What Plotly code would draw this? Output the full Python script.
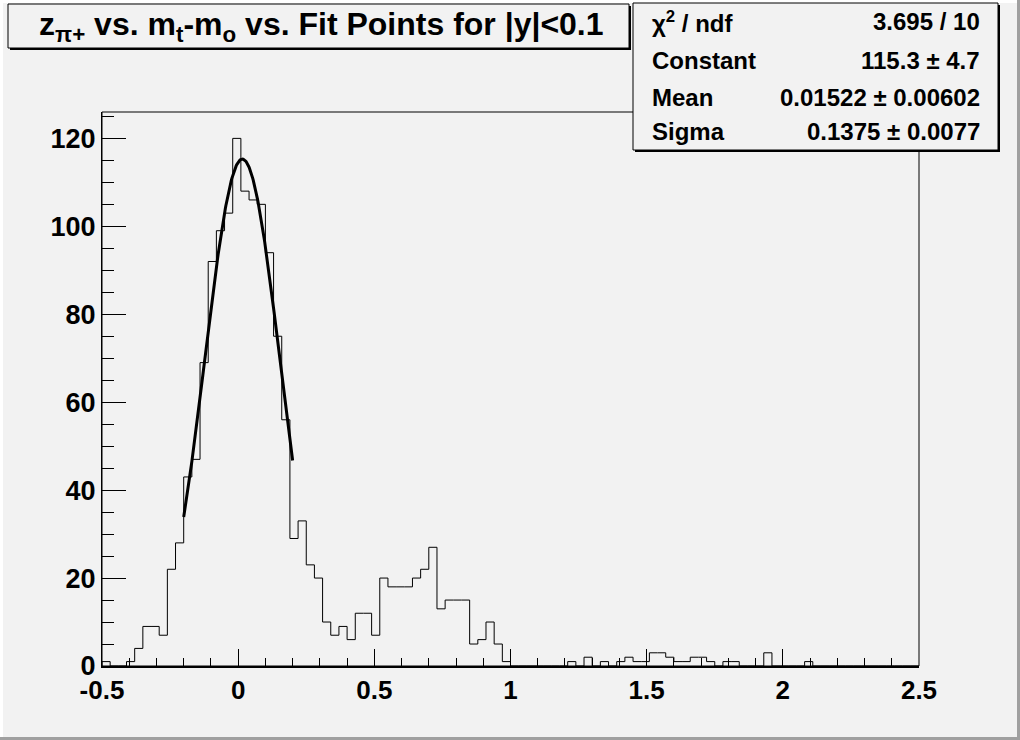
import numpy as np
import plotly.graph_objects as go

# ---------------- data ----------------
x_lo, x_hi, n_bins = -0.5, 2.5, 100
counts = [1, 0, 0, 1, 4, 9, 9, 7, 22, 28,
          43, 47, 69, 92, 99, 103, 120, 108, 106, 105,
          94, 75, 56, 29, 33, 23, 20, 10, 7, 9,
          6, 12, 12, 7, 20, 18, 18, 18, 20, 22,
          27, 13, 15, 15, 15, 5, 6, 10, 5, 1,
          0, 0, 0, 0, 0, 0, 0, 1, 0, 2,
          0, 1, 0, 1, 2, 1, 1, 3, 3, 2,
          1, 1, 2, 2, 1, 0, 1, 1, 0, 0,
          0, 3, 0, 0, 0, 0, 1, 0, 0, 0,
          0, 0, 0, 0, 0, 0, 0, 0, 0, 0]
fit_constant, fit_mean, fit_sigma = 115.3, 0.01522, 0.1375
fit_range = [-0.2, 0.2]
stat_labels = ["χ<sup>2</sup> / ndf", "Constant", "Mean", "Sigma"]
stat_values = ["3.695 / 10", "115.3 ± 4.7", "0.01522 ± 0.00602", "0.1375 ± 0.0077"]
title_text = "z<sub>π+</sub> vs. m<sub>t</sub>-m<sub>o</sub> vs. Fit Points for |y|&lt;0.1"
x_tickvals = [-0.5, 0, 0.5, 1, 1.5, 2, 2.5]
x_ticktext = ["-0.5", "0", "0.5", "1", "1.5", "2", "2.5"]
y_tickvals = [0, 20, 40, 60, 80, 100, 120]

# ---------------- layout geometry ----------------
W, H = 1020, 740
ML, MR, MT, MB = 102, 101, 112, 74
PW, PH = W - ML - MR, H - MT - MB
BG = "#f2f2f2"
FONT = "Liberation Sans"


def px(xp):
    return (xp - ML) / PW


def py(yp):
    return 1 - (yp - MT) / PH


edges = np.linspace(x_lo, x_hi, n_bins + 1)
hx = [edges[0]] + list(edges[:-1]) + [edges[-1]]
hy = [0] + list(counts) + [counts[-1]]

fx = np.linspace(fit_range[0], fit_range[1], 200)
fy = fit_constant * np.exp(-0.5 * ((fx - fit_mean) / fit_sigma) ** 2)

fig = go.Figure()
fig.add_trace(go.Scatter(x=hx, y=hy, mode="lines", line=dict(shape="hv", color="black", width=1),
                         hoverinfo="skip", showlegend=False))
fig.add_trace(go.Scatter(x=fx, y=fy, mode="lines", line=dict(color="black", width=3),
                         hoverinfo="skip", showlegend=False))

shapes = []
# canvas bevel
shapes.append(dict(type="rect", xref="paper", yref="paper", x0=px(0), x1=px(W), y0=py(H - 3), y1=py(H),
                   fillcolor="#a0a0a0", line=dict(width=0), layer="below"))
shapes.append(dict(type="rect", xref="paper", yref="paper", x0=px(W - 3), x1=px(W), y0=py(H), y1=py(0),
                   fillcolor="#a0a0a0", line=dict(width=0), layer="below"))
shapes.append(dict(type="rect", xref="paper", yref="paper", x0=px(0), x1=px(3), y0=py(H - 3), y1=py(0),
                   fillcolor="#ffffff", line=dict(width=0), layer="below"))
shapes.append(dict(type="rect", xref="paper", yref="paper", x0=px(0), x1=px(W - 3), y0=py(3), y1=py(0),
                   fillcolor="#ffffff", line=dict(width=0), layer="below"))
# frame
shapes.append(dict(type="rect", xref="paper", yref="paper", x0=0, x1=1, y0=0, y1=1,
                   line=dict(color="black", width=1)))


def box(x0, y0, x1, y1, sh=3):
    return [
        dict(type="rect", xref="paper", yref="paper", x0=px(x0 + sh), x1=px(x1 + sh), y0=py(y1 + sh), y1=py(y0 + sh),
             fillcolor="black", line=dict(width=0)),
        dict(type="rect", xref="paper", yref="paper", x0=px(x0), x1=px(x1), y0=py(y1), y1=py(y0),
             fillcolor=BG, line=dict(color="black", width=1)),
    ]


shapes += box(8, 4, 629, 48, 2)
shapes += box(633, 3, 998, 150, 2)

annotations = [dict(text=title_text, xref="paper", yref="paper", x=px(321), y=py(26), xanchor="center",
                    yanchor="middle", showarrow=False,
                    font=dict(family=FONT, size=32, color="black", weight="bold"))]
row_y = [22, 60, 97, 132]
for lab, val, yy in zip(stat_labels, stat_values, row_y):
    annotations.append(dict(text=lab, xref="paper", yref="paper", x=px(650), y=py(yy), xanchor="left",
                            yanchor="middle", showarrow=False,
                            font=dict(family=FONT, size=24, color="black", weight="bold")))
    annotations.append(dict(text=val, xref="paper", yref="paper", x=px(982), y=py(yy), xanchor="right",
                            yanchor="middle", showarrow=False,
                            font=dict(family=FONT, size=24, color="black", weight="bold")))

fig.update_layout(
    width=W, height=H,
    margin=dict(l=ML, r=MR, t=MT, b=MB, pad=0),
    paper_bgcolor=BG, plot_bgcolor=BG,
    shapes=shapes, annotations=annotations,
    showlegend=False,
    xaxis=dict(range=[x_lo, x_hi], showgrid=False, zeroline=False, showline=True, linecolor="black",
               linewidth=2, ticks="inside", ticklen=17, tickwidth=1, tickcolor="black",
               tickvals=x_tickvals, ticktext=x_ticktext,
               tickfont=dict(family=FONT, size=26, color="black", weight="bold"),
               minor=dict(dtick=0.1, tick0=0, ticks="inside", ticklen=8, tickwidth=1, tickcolor="black",
                          showgrid=False)),
    yaxis=dict(range=[0, 126], showgrid=False, zeroline=False, showline=True, linecolor="black",
               linewidth=1, ticks="inside", ticklen=24, tickwidth=1, tickcolor="black",
               tickvals=y_tickvals,
               tickfont=dict(family=FONT, size=27, color="black", weight="bold"),
               minor=dict(dtick=5, tick0=0, ticks="inside", ticklen=12, tickwidth=1, tickcolor="black",
                          showgrid=False)),
)

fig.write_html("out.html", config={"displayModeBar": False},
               post_script="document.body.style.margin='0';document.body.style.overflow='hidden';")
